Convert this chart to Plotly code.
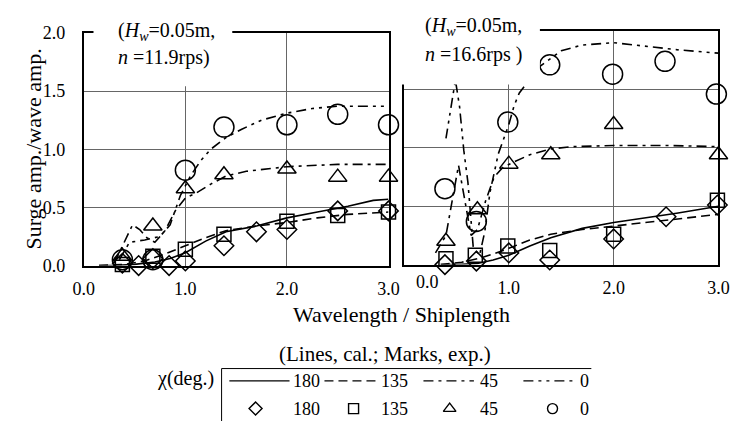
import plotly.graph_objects as go

W, H = 745, 431
SERIF = "Liberation Serif"

# ---------------- data: n = 11.9 rps ----------------
# calculated curves
l180_x = [0.15, 0.3, 0.5, 0.7, 0.85, 1.0, 1.2, 1.4, 1.7, 2.0, 2.3, 2.6, 2.85, 3.0]
l180_y = [0.0, 0.0, 0.01, 0.03, 0.06, 0.11, 0.21, 0.29, 0.34, 0.41, 0.46, 0.51, 0.56, 0.57]
l135_x = [0.15, 0.4, 0.6, 0.8, 1.0, 1.2, 1.4, 1.7, 2.0, 2.3, 2.6, 3.0]
l135_y = [0.0, 0.01, 0.04, 0.10, 0.17, 0.24, 0.30, 0.34, 0.37, 0.41, 0.44, 0.46]
l45_x = [0.30, 0.40, 0.48, 0.55, 0.62, 0.70, 0.80, 0.90, 1.00, 1.10, 1.25, 1.40, 1.60, 2.00, 2.50, 3.00]
l45_y = [0.02, 0.20, 0.35, 0.31, 0.24, 0.20, 0.30, 0.47, 0.58, 0.62, 0.70, 0.77, 0.81, 0.85, 0.87, 0.87]
l0_x = [0.35, 0.45, 0.60, 0.75, 0.85, 0.95, 1.05, 1.15, 1.25, 1.40, 1.55, 1.75, 2.00, 2.25, 2.50, 3.00]
l0_y = [0.05, 0.20, 0.22, 0.25, 0.35, 0.60, 0.77, 0.90, 1.00, 1.10, 1.17, 1.25, 1.31, 1.35, 1.37, 1.37]
# measured points
m180_l_x = [0.38, 0.54, 0.68, 0.84, 1.0, 1.38, 1.7, 2.0, 2.5, 3.0]
m180_l_y = [0.02, 0.0, 0.06, 0.0, 0.04, 0.17, 0.29, 0.31, 0.47, 0.47]
m135_l_x = [0.38, 0.68, 1.0, 1.38, 2.0, 2.5, 3.0]
m135_l_y = [0.01, 0.08, 0.14, 0.27, 0.38, 0.43, 0.46]
m45_l_x = [0.38, 0.68, 1.0, 1.38, 2.0, 2.5, 3.0]
m45_l_y = [0.08, 0.34, 0.66, 0.78, 0.83, 0.76, 0.76]
m0_l_x = [0.38, 0.68, 1.0, 1.38, 2.0, 2.5, 3.0]
m0_l_y = [0.05, 0.05, 0.82, 1.19, 1.21, 1.30, 1.21]

# ---------------- data: n = 16.6 rps ----------------
r180_x = [0.35, 0.5, 0.7, 0.85, 1.0, 1.2, 1.4, 1.7, 2.0, 2.3, 2.6, 3.0]
r180_y = [0.0, 0.0, 0.01, 0.04, 0.08, 0.16, 0.23, 0.31, 0.36, 0.40, 0.44, 0.50]
r135_x = [0.35, 0.55, 0.7, 0.85, 1.0, 1.2, 1.4, 1.7, 2.0, 2.3, 2.6, 3.0]
r135_y = [0.0, 0.02, 0.05, 0.09, 0.14, 0.21, 0.26, 0.30, 0.33, 0.36, 0.39, 0.43]
r45_x = [0.30, 0.40, 0.46, 0.52, 0.58, 0.64, 0.70, 0.78, 0.86, 0.94, 1.05, 1.2, 1.4, 1.6, 2.0, 2.5, 3.0]
r45_y = [0.10, 0.25, 0.55, 0.85, 0.55, 0.25, 0.30, 0.55, 0.75, 0.83, 0.88, 0.94, 0.99, 1.01, 1.02, 1.02, 1.01]
r0_x = [0.40, 0.45, 0.49, 0.53, 0.57, 0.61, 0.66, 0.72, 0.77, 0.82, 0.90, 1.00, 1.05, 1.10, 1.16, 1.30, 1.50, 1.70, 2.00, 2.30, 2.60, 3.00]
r0_y = [1.08, 1.35, 1.58, 1.35, 0.98, 0.70, 0.15, 0.08, 0.28, 0.62, 0.95, 1.20, 1.36, 1.47, 1.54, 1.70, 1.83, 1.88, 1.90, 1.87, 1.84, 1.81]
m180_r_x = [0.39, 0.69, 1.0, 1.39, 2.0, 2.5, 2.99]
m180_r_y = [0.0, 0.03, 0.10, 0.04, 0.22, 0.41, 0.51]
m135_r_x = [0.40, 0.68, 0.99, 1.39, 2.0, 2.99]
m135_r_y = [0.05, 0.08, 0.16, 0.12, 0.26, 0.55]
m45_r_x = [0.40, 0.70, 1.0, 1.40, 2.0, 3.0]
m45_r_y = [0.20, 0.47, 0.86, 0.94, 1.20, 0.94]
m0_r_x = [0.39, 0.69, 0.99, 1.39, 1.99, 2.49, 2.98]
m0_r_y = [0.65, 0.37, 1.22, 1.71, 1.63, 1.74, 1.46]

chi_labels = ["180", "135", "45", "0"]
x_ticks = [0, 1, 2, 3]
x_ticktext = ["0.0", "1.0", "2.0", "3.0"]
y_ticks = [0, 0.5, 1.0, 1.5, 2.0]
y_ticktext = ["0.0", "0.5", "1.0", "1.5", "2.0"]

# ---------------- styling ----------------
DASH = {"180": "solid", "135": "9px,5px", "45": "10px,5px,3px,5px",
        "0": "10px,5px,3px,5px,3px,5px"}
SYMBOL = {"180": "diamond-open", "135": "square-open",
          "45": "triangle-up-open", "0": "circle-open"}
MSIZE = {"180": 15, "135": 14, "45": 16, "0": 20}


def fx(p):
    return p / W


def fy(p):
    return 1 - p / H


fig = go.Figure()

panels = [
    ("x", "y",
     {"180": (l180_x, l180_y), "135": (l135_x, l135_y), "45": (l45_x, l45_y), "0": (l0_x, l0_y)},
     {"180": (m180_l_x, m180_l_y), "135": (m135_l_x, m135_l_y), "45": (m45_l_x, m45_l_y), "0": (m0_l_x, m0_l_y)}),
    ("x2", "y2",
     {"180": (r180_x, r180_y), "135": (r135_x, r135_y), "45": (r45_x, r45_y), "0": (r0_x, r0_y)},
     {"180": (m180_r_x, m180_r_y), "135": (m135_r_x, m135_r_y), "45": (m45_r_x, m45_r_y), "0": (m0_r_x, m0_r_y)}),
]

for xa, ya, curves, marks in panels:
    for k in chi_labels:
        cx, cy = curves[k]
        fig.add_trace(go.Scatter(x=cx, y=cy, xaxis=xa, yaxis=ya, mode="lines",
                                 line=dict(color="black", width=1.6, dash=DASH[k]),
                                 showlegend=False, hoverinfo="skip"))
    for k in chi_labels:
        mx, my = marks[k]
        fig.add_trace(go.Scatter(x=mx, y=my, xaxis=xa, yaxis=ya, mode="markers",
                                 marker=dict(symbol=SYMBOL[k], size=MSIZE[k], color="black",
                                             line=dict(color="black", width=1.5)),
                                 cliponaxis=False, showlegend=False, hoverinfo="skip"))

# ---------------- key (drawn on a pixel-scaled helper axis) ----------------
KEY_X0, KEY_X1, KEY_Y0, KEY_Y1 = 200, 620, 370, 431
row1, row2 = 389, 418
key_top = 376
line_spans = {"180": (225, 287), "135": (323, 377), "45": (425, 477), "0": (528, 580)}
text_left = {"180": 289, "135": 379, "45": 481, "0": 584}
mark_pos = {"180": 252, "135": 353, "45": 452, "0": 558}
KEY_MSIZE = {"180": 10, "135": 10, "45": 11, "0": 10}

for k in chi_labels:
    a, b = line_spans[k]
    fig.add_trace(go.Scatter(x=[a, b], y=[row1, row1], xaxis="x3", yaxis="y3", mode="lines",
                             line=dict(color="black", width=1.3, dash=DASH[k]),
                             cliponaxis=False, showlegend=False, hoverinfo="skip"))
    fig.add_trace(go.Scatter(x=[mark_pos[k]], y=[row2], xaxis="x3", yaxis="y3", mode="markers",
                             marker=dict(symbol=SYMBOL[k], size=KEY_MSIZE[k], color="black",
                                         line=dict(color="black", width=1.4)),
                             cliponaxis=False, showlegend=False, hoverinfo="skip"))

axis_common = dict(showgrid=True, gridcolor="#666666", gridwidth=1, showline=True,
                   linecolor="black", linewidth=2, mirror=True, ticks="", zeroline=False,
                   tickfont=dict(family=SERIF, size=18, color="black"), fixedrange=True)

fig.update_layout(
    width=W, height=H, autosize=False,
    margin=dict(l=0, r=0, t=0, b=0),
    paper_bgcolor="white", plot_bgcolor="rgba(0,0,0,0)",
    showlegend=False,
    font=dict(family=SERIF, color="black"),
    xaxis=dict(domain=[fx(75), fx(389)], range=[0, 3], anchor="y",
               tickvals=x_ticks, ticktext=x_ticktext, ticklabelstandoff=6, **axis_common),
    yaxis=dict(domain=[fy(268), fy(24)], range=[0, 2], anchor="x",
               tickvals=y_ticks, ticktext=y_ticktext, ticklabelstandoff=13, **axis_common),
    xaxis2=dict(domain=[fx(405), fx(729)], range=[0, 3], anchor="y2",
                tickvals=x_ticks[1:], ticktext=x_ticktext[1:], ticklabelstandoff=6, **axis_common),
    yaxis2=dict(domain=[fy(267), fy(22)], range=[0, 2], anchor="x2",
                tickvals=y_ticks, showticklabels=False, **axis_common),
    xaxis3=dict(domain=[fx(KEY_X0), fx(KEY_X1)], range=[KEY_X0, KEY_X1], anchor="y3",
                visible=False, fixedrange=True),
    yaxis3=dict(domain=[fy(KEY_Y1), fy(KEY_Y0)], range=[KEY_Y1, KEY_Y0], anchor="x3",
                visible=False, fixedrange=True),
)

# white boxes behind the condition labels (they cut the frame and grid)
for x0, x1, y1 in [(85, 228, 80), (397, 545, 78)]:
    fig.add_shape(type="rect", xref="paper", yref="paper",
                  x0=fx(x0), x1=fx(x1), y0=fy(y1), y1=1.0,
                  fillcolor="white", line=dict(width=0), layer="above")

# key frame
fig.add_shape(type="line", xref="paper", yref="paper", x0=fx(217), x1=fx(598),
              y0=fy(key_top), y1=fy(key_top), line=dict(color="black", width=1))
fig.add_shape(type="line", xref="paper", yref="paper", x0=fx(217), x1=fx(217),
              y0=fy(key_top), y1=0, line=dict(color="black", width=1))


def note(text, x, y, size, xanchor="left", yanchor="middle", angle=0):
    fig.add_annotation(text=text, x=fx(x), y=fy(y), xref="paper", yref="paper",
                       xanchor=xanchor, yanchor=yanchor, showarrow=False, textangle=angle,
                       font=dict(family=SERIF, size=size, color="black"))


note("(<i>H</i><sub><i>w</i></sub>=0.05m,", 108, 23, 20)
note("<i>n</i> =11.9rps)", 108, 50, 20)
note("(<i>H</i><sub><i>w</i></sub>=0.05m,", 425, 17, 20)
note("<i>n</i> =16.6rps )", 425, 47, 20)

note("Surge amp./wave amp.", 23, 146, 22, xanchor="center", angle=-90)
note("Wavelength / Shiplength", 402, 319, 22, xanchor="center")
note("(Lines, cal.; Marks, exp.)", 385, 361, 21, xanchor="center")
note("\u03c7(deg.)", 180, 386, 20, xanchor="center")

# first tick label of the right panel, nudged right to clear the left panel's "3.0"
fig.add_annotation(text=x_ticktext[0], x=0, y=fy(285), xref="x2", yref="paper",
                   xshift=23, xanchor="center", yanchor="middle", showarrow=False,
                   font=dict(family=SERIF, size=18, color="black"))

for k in chi_labels:
    note(k, text_left[k], row1, 18)
    note(k, text_left[k], row2, 18)

fig.write_html("out.html")
